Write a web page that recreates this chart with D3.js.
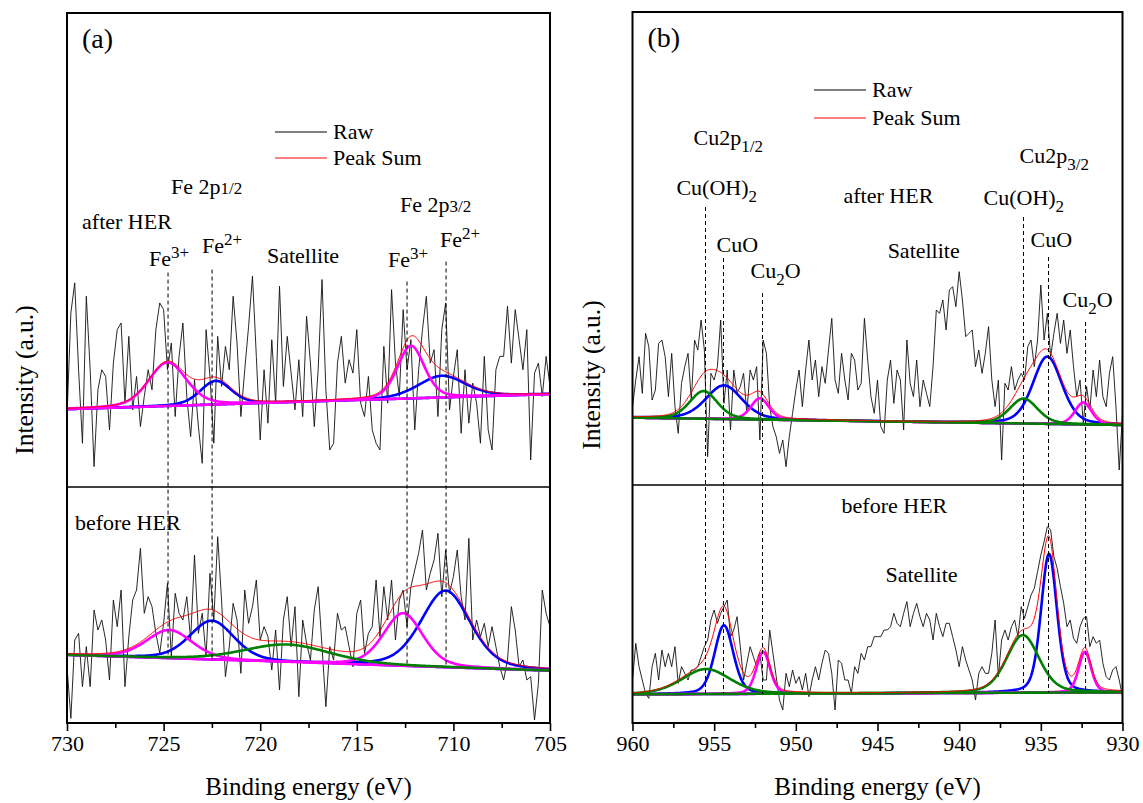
<!DOCTYPE html>
<html>
<head>
<meta charset="utf-8">
<title>XPS Fe 2p / Cu 2p</title>
<script src="https://d3js.org/d3.v7.min.js"></script>
<style>
  body { margin: 0; background: #fff; }
  text { font-family: "Liberation Serif", "Times New Roman", serif; fill: #000; }
</style>
</head>
<body>
<div id="view"></div>
<script>
var width = 1143, height = 803;

// ---------- panel (a): Fe 2p ----------
var energyA = [730, 705];
var ticksA = [730, 725, 720, 715, 710, 705];
var minorTicksA = [727.5, 722.5, 717.5, 712.5, 707.5];

// raw counts, evenly spaced from 730 to 705 eV
var rawA_after = [190,500,590,330,110,550,330,40,270,330,
  310,150,350,450,470,230,430,210,310,160,
  250,330,270,450,530,510,330,410,190,370,
  470,250,130,300,160,50,450,310,110,430,
  280,400,330,550,410,190,330,460,610,370,
  120,330,170,420,230,580,280,430,320,210,
  360,190,490,350,160,330,600,270,90,110,
  350,430,290,360,320,450,230,190,310,150,
  110,90,400,230,570,350,250,510,330,420,
  150,330,450,550,350,390,190,450,530,210,
  310,390,140,330,170,290,230,110,370,150,
  90,330,370,370,520,350,510,420,330,450,
  60,320,350,250,370,280];
var rawA_before = [190,35,270,290,130,250,130,360,300,330,
  270,150,390,310,420,130,280,390,420,545,
  350,400,370,290,230,320,440,220,410,350,
  330,400,270,525,290,350,220,470,330,580,
  390,160,250,380,330,170,420,320,370,450,
  270,310,280,180,300,120,330,400,250,370,
  100,330,260,210,360,430,250,70,250,210,
  350,300,310,250,190,350,390,230,290,310,
  450,280,430,330,450,270,390,420,310,430,
  480,530,600,420,470,510,590,400,540,410,
  460,540,400,330,575,270,330,280,320,250,
  310,250,190,150,210,370,300,190,210,150,
  160,30,140,420,350,310];

// fitted components (center eV, height above background, FWHM eV)
var baseA_after = [212, 257];
var peakA_afterKind = ["Fe3+", "Fe2+", "Fe3+", "Fe2+"];
var peakA_afterCenter = [724.8, 722.3, 712.2, 710.6];
var peakA_afterHeight = [131, 71, 158, 65];
var peakA_afterFwhm = [2.3, 1.9, 1.65, 2.9];

var baseA_before = [225, 178];
var peakA_beforeKind = ["Fe3+", "Fe2+", "Sat", "Fe3+", "Fe2+"];
var peakA_beforeCenter = [724.7, 722.5, 718.6, 712.6, 710.4];
var peakA_beforeHeight = [85, 117, 53, 158, 230];
var peakA_beforeFwhm = [2.8, 2.7, 5.3, 2.4, 3.0];

// ---------- panel (b): Cu 2p ----------
var energyB = [960, 930];
var ticksB = [960, 955, 950, 945, 940, 935, 930];
var minorTicksB = [957.5, 952.5, 947.5, 942.5, 937.5, 932.5];

var rawB_after = [220,300,370,260,440,400,240,270,410,420,
  370,250,380,220,140,290,340,380,240,420,
  390,480,390,70,320,300,340,480,230,330,
  150,330,260,280,320,200,330,300,340,120,
  420,380,220,160,130,80,120,40,130,200,
  270,330,220,330,420,300,360,250,340,290,
  390,485,300,260,380,300,240,380,360,270,
  290,485,360,250,200,300,160,140,300,360,
  230,330,300,150,420,290,250,360,220,300,
  260,220,340,510,500,540,450,570,580,520,
  625,540,430,440,450,340,390,320,380,460,
  300,220,300,60,290,270,340,270,300,320,
  300,400,420,340,420,585,420,500,370,440,
  500,410,480,380,450,340,250,300,170,280,
  210,330,250,360,250,220,320,370,220,30,
  200];
var rawB_before = [120,230,160,120,80,65,160,200,120,210,
  160,200,160,220,110,160,140,120,150,150,
  160,190,220,240,300,330,290,320,340,360,
  250,270,310,220,120,170,220,190,160,200,
  120,120,270,200,130,60,30,140,100,150,
  110,130,90,140,70,120,160,120,170,210,
  200,140,30,180,170,120,120,80,160,140,
  200,180,220,220,250,250,250,270,270,280,
  320,290,280,320,355,280,320,350,310,280,
  320,300,240,320,280,250,290,290,250,210,
  160,220,180,150,120,60,140,160,140,140,
  200,300,130,240,270,240,280,300,250,340,
  305,340,375,395,445,495,535,580,570,490,
  455,400,350,280,300,245,230,280,305,310,
  220,250,230,240,170,130,120,150,160,120,
  70];

var baseB_after = [187, 165];
var peakB_afterKind = ["Cu(OH)2", "CuO", "Cu2O", "Cu(OH)2", "CuO", "Cu2O"];
var peakB_afterCenter = [955.65, 954.4, 952.2, 936.05, 934.6, 932.4];
var peakB_afterHeight = [83, 101, 64, 75, 202, 66];
var peakB_afterFwhm = [2.0, 2.6, 1.3, 2.0, 2.1, 1.2];

var baseB_before = [77, 83];
var peakB_beforeKind = ["Cu(OH)2", "CuO", "Cu2O", "Cu(OH)2", "CuO", "Cu2O"];
var peakB_beforeCenter = [955.5, 954.4, 952.0, 936.1, 934.5, 932.3];
var peakB_beforeHeight = [75, 206, 126, 173, 416, 122];
var peakB_beforeFwhm = [3.5, 1.35, 1.0, 2.35, 1.15, 0.9];

// Lorentzian fraction of the pseudo-Voigt line shape
var lorentzMix = 0.3;

var kindColor = {
  "Fe3+": "#ff00ff", "Fe2+": "#0000ff", "Sat": "#008000",
  "Cu(OH)2": "#008000", "CuO": "#0000ff", "Cu2O": "#ff00ff"
};
var colorOrder = ["#0000ff", "#ff00ff", "#008000"];

// annotations: energy + intensity in the sub-panel units
var labelsA = [
  { sub: 0, e: 724.62, v: 855, t: "Fe 2p~{1/2}" },
  { sub: 0, e: 712.76, v: 801, t: "Fe 2p~{3/2}" },
  { sub: 0, e: 729.22, v: 750, t: "after HER" },
  { sub: 0, e: 725.76, v: 642, t: "Fe^{3+}" },
  { sub: 0, e: 723.01, v: 681, t: "Fe^{2+}" },
  { sub: 0, e: 719.65, v: 651, t: "Satellite" },
  { sub: 0, e: 713.39, v: 639, t: "Fe^{3+}" },
  { sub: 0, e: 710.69, v: 696, t: "Fe^{2+}" },
  { sub: 1, e: 729.59, v: 600, t: "before HER" }
];
var dashA = [[724.77, 621], [722.49, 630], [712.40, 594], [710.38, 654]];

var labelsB = [
  { sub: 0, e: 956.26, v: 1005, t: "Cu2p_{1/2}" },
  { sub: 0, e: 957.31, v: 855, t: "Cu(OH)_{2}" },
  { sub: 0, e: 947.08, v: 831, t: "after HER" },
  { sub: 0, e: 936.30, v: 951, t: "Cu2p_{3/2}" },
  { sub: 0, e: 938.51, v: 825, t: "Cu(OH)_{2}" },
  { sub: 0, e: 954.86, v: 684, t: "CuO" },
  { sub: 0, e: 935.63, v: 699, t: "CuO" },
  { sub: 0, e: 944.38, v: 666, t: "Satellite" },
  { sub: 0, e: 952.77, v: 606, t: "Cu_{2}O" },
  { sub: 0, e: 933.67, v: 519, t: "Cu_{2}O" },
  { sub: 1, e: 947.2, v: 621, t: "before HER" },
  { sub: 1, e: 944.51, v: 414, t: "Satellite" }
];
var dashB = [[955.53, 819], [954.43, 666], [952.04, 561], [936.06, 789], [934.53, 669], [932.26, 474]];

var svg = d3.select("#view")
  .append("svg")
  .attr("width", width)
  .attr("height", height);

svg.append("rect").attr("width", width).attr("height", height).attr("fill", "#fff");

var panels = [
  {
    id: "a", name: "(a)", left: 67, right: 550, top: 13, mid: 487, bottom: 723,
    energy: energyA, ticks: ticksA, minor: minorTicksA,
    legendX: 275, legendY: 132, yTitleX: 33, yTitleY: 380,
    subs: [
      { yDomain: [-21, 1398], raw: rawA_after, base: baseA_after, kind: peakA_afterKind,
        center: peakA_afterCenter, h: peakA_afterHeight, w: peakA_afterFwhm },
      { yDomain: [21, 729], raw: rawA_before, base: baseA_before, kind: peakA_beforeKind,
        center: peakA_beforeCenter, h: peakA_beforeHeight, w: peakA_beforeFwhm }
    ],
    labels: labelsA, dash: dashA
  },
  {
    id: "b", name: "(b)", left: 632.5, right: 1122.5, top: 12, mid: 485, bottom: 723,
    energy: energyB, ticks: ticksB, minor: minorTicksB,
    legendX: 814, legendY: 90, yTitleX: 600, yTitleY: 375,
    subs: [
      { yDomain: [-15, 1404], raw: rawB_after, base: baseB_after, kind: peakB_afterKind,
        center: peakB_afterCenter, h: peakB_afterHeight, w: peakB_afterFwhm },
      { yDomain: [-9, 705], raw: rawB_before, base: baseB_before, kind: peakB_beforeKind,
        center: peakB_beforeCenter, h: peakB_beforeHeight, w: peakB_beforeFwhm }
    ],
    labels: labelsB, dash: dashB
  }
];

function voigt(e, c, h, w) {
  var t = (e - c) / w;
  var g = Math.exp(-4 * Math.LN2 * t * t);
  var l = 1 / (1 + 4 * t * t);
  return h * (lorentzMix * l + (1 - lorentzMix) * g);
}

// "Fe^{3+}" superscript, "Cu_{2}" subscript, "2p~{1/2}" small on the baseline
function richText(sel, str, size) {
  var re = /([\^_~])\{([^}]*)\}|([^\^_~]+)/g, m, cur = 0;
  while ((m = re.exec(str)) !== null) {
    var txt, fs = size, off = 0;
    if (m[1]) {
      txt = m[2];
      fs = 17;
      off = m[1] === "^" ? -8 : (m[1] === "_" ? 7 : 0);
    } else {
      txt = m[3];
    }
    sel.append("tspan").attr("font-size", fs).attr("dy", off - cur).text(txt);
    cur = off;
  }
}

panels.forEach(function (p) {
  var g = svg.append("g");
  var x = d3.scaleLinear().domain(p.energy).range([p.left, p.right]);
  var grid = d3.range(0, 601).map(function (i) {
    return p.energy[0] + (p.energy[1] - p.energy[0]) * i / 600;
  });

  p.subs.forEach(function (s, k) {
    var yTop = k === 0 ? p.top : p.mid;
    var yBot = k === 0 ? p.mid : p.bottom;
    var y = d3.scaleLinear().domain(s.yDomain).range([yBot, yTop]);
    s.y = y;
    s.baseAt = function (e) {
      return s.base[0] + (s.base[1] - s.base[0]) * (e - p.energy[0]) / (p.energy[1] - p.energy[0]);
    };

    var clipId = "clip-" + p.id + k;
    svg.append("clipPath").attr("id", clipId).append("rect")
      .attr("x", p.left).attr("y", yTop)
      .attr("width", p.right - p.left).attr("height", yBot - yTop);
    var layer = g.append("g").attr("clip-path", "url(#" + clipId + ")");

    var line = d3.line().x(function (d) { return x(d[0]); }).y(function (d) { return y(d[1]); });

    // raw spectrum
    var n = s.raw.length;
    var step = (p.energy[0] - p.energy[1]) / (n - 1);
    var rawPts = s.raw.map(function (v, i) { return [p.energy[0] - i * step, v]; });
    layer.append("path").datum(rawPts).attr("d", line)
      .attr("fill", "none").attr("stroke", "#111").attr("stroke-width", 0.9);

    // components
    var comps = s.center.map(function (c, i) {
      return { c: c, h: s.h[i], w: s.w[i], color: kindColor[s.kind[i]] };
    });
    comps.sort(function (a, b) { return colorOrder.indexOf(a.color) - colorOrder.indexOf(b.color); });
    comps.forEach(function (cp) {
      var pts = grid.map(function (e) { return [e, s.baseAt(e) + voigt(e, cp.c, cp.h, cp.w)]; });
      layer.append("path").datum(pts).attr("d", line)
        .attr("fill", "none").attr("stroke", cp.color).attr("stroke-width", 2.6);
    });

    // peak sum
    var sumPts = grid.map(function (e) {
      return [e, s.baseAt(e) + d3.sum(comps, function (cp) { return voigt(e, cp.c, cp.h, cp.w); })];
    });
    layer.append("path").datum(sumPts).attr("d", line)
      .attr("fill", "none").attr("stroke", "#ff0000").attr("stroke-width", 1);
  });

  // dashed guide lines from the labels down to the lower background
  p.dash.forEach(function (d) {
    g.append("line")
      .attr("x1", x(d[0])).attr("x2", x(d[0]))
      .attr("y1", p.subs[0].y(d[1]))
      .attr("y2", p.subs[1].y(p.subs[1].baseAt(d[0])))
      .attr("stroke", "#000").attr("stroke-width", 1)
      .attr("stroke-dasharray", "4,3");
  });

  // labels
  p.labels.forEach(function (l) {
    var t = g.append("text")
      .attr("x", x(l.e))
      .attr("y", p.subs[l.sub].y(l.v))
      .attr("font-size", 22);
    richText(t, l.t, 22);
  });

  // legend
  [["Raw", "#000"], ["Peak Sum", "#ff0000"]].forEach(function (it, i) {
    var ly = p.legendY + i * (p.id === "a" ? 26 : 28);
    g.append("line").attr("x1", p.legendX).attr("x2", p.legendX + 52)
      .attr("y1", ly).attr("y2", ly)
      .attr("stroke", it[1]).attr("stroke-width", 1);
    g.append("text").attr("x", p.legendX + 58).attr("y", ly + 7)
      .attr("font-size", 22).text(it[0]);
  });

  // panel letter
  g.append("text").attr("x", p.left + 15).attr("y", p.top + 35)
    .attr("font-size", 28).text(p.name);

  // frame and divider
  g.append("rect").attr("x", p.left).attr("y", p.top)
    .attr("width", p.right - p.left).attr("height", p.bottom - p.top)
    .attr("fill", "none").attr("stroke", "#000").attr("stroke-width", 2);
  g.append("line").attr("x1", p.left).attr("x2", p.right)
    .attr("y1", p.mid).attr("y2", p.mid)
    .attr("stroke", "#000").attr("stroke-width", 1.5);

  // x axis
  var ax = g.append("g").attr("transform", "translate(0," + p.bottom + ")")
    .call(d3.axisBottom(x).tickValues(p.ticks).tickSize(8).tickPadding(4).tickFormat(d3.format("d")));
  ax.select(".domain").remove();
  ax.selectAll(".tick line").attr("stroke-width", 1.6);
  ax.selectAll(".tick text").attr("font-size", 22)
    .style("font-family", '"Liberation Serif", "Times New Roman", serif');
  var axm = g.append("g").attr("transform", "translate(0," + p.bottom + ")")
    .call(d3.axisBottom(x).tickValues(p.minor).tickSize(5).tickFormat(""));
  axm.select(".domain").remove();
  axm.selectAll(".tick line").attr("stroke-width", 1.6);

  g.append("text").attr("x", (p.left + p.right) / 2).attr("y", 795)
    .attr("text-anchor", "middle").attr("font-size", 25).text("Binding energy (eV)");

  g.append("text").attr("transform", "translate(" + p.yTitleX + "," + p.yTitleY + ") rotate(-90)")
    .attr("text-anchor", "middle").attr("font-size", 25.5).text("Intensity (a.u.)");
});
</script>
</body>
</html>
